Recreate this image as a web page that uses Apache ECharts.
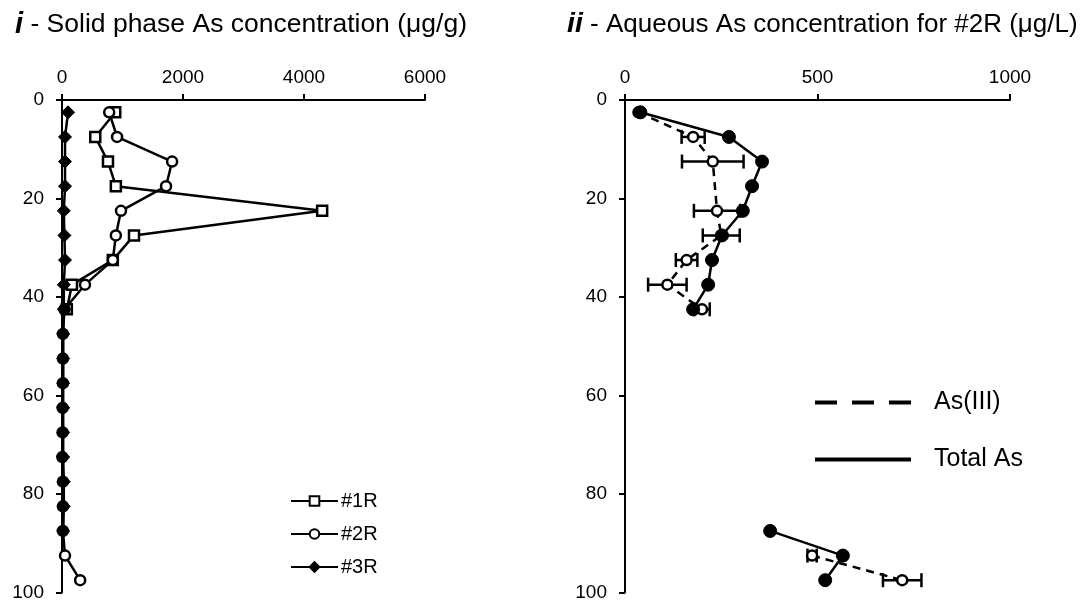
<!DOCTYPE html>
<html><head><meta charset="utf-8">
<script src="https://cdn.jsdelivr.net/npm/echarts@6/dist/echarts.min.js"></script>
<style>html,body{margin:0;padding:0;background:#fff}#c{width:1091px;height:602px}</style>
</head><body><div id="c"></div>
<script>
// ---- data ----
const depthsLeft = [2.5,7.5,12.5,17.5,22.5,27.5,32.5,37.5,42.5,47.5,52.5,57.5,62.5,67.5,72.5,77.5,82.5,87.5,92.5,97.5];
const r1 = [880,550,760,890,4300,1190,840,165,80];
const r2 = [780,910,1820,1720,975,890,840,380,40,15,15,15,10,10,5,15,15,15,50,300];
const r3 = [100,50,50,50,30,40,50,30,30,20,20,20,20,20,20,30,30,20];
const leftTicks = [0,2000,4000,6000];

const totalDepths = [2.5,7.5,12.5,17.5,22.5,27.5,32.5,37.5,42.5,null,87.5,92.5,97.5];
const totalAs = [40,270,356,330,306,252,226,216,177,null,377,566,520];
const as3Depths = [2.5,7.5,12.5,22.5,27.5,32.5,37.5,42.5,null,92.5,97.5];
const as3 = [35,177,228,239,250,160,110,200,null,486,720];
const as3Err = [0,30,80,60,48,28,50,20,null,12,50];
const rightTicks = [0,500,1000];

const FONT = 'Liberation Sans';
const pairs = (xs, ds) => xs.map((v,i) => (v === null ? ['-', '-'] : [v, ds[i]]));
const errData = as3.map((v,i) => v === null || as3Err[i] === 0 ? null : [v - as3Err[i], v + as3Err[i], as3Depths[i]]).filter(d => d);

const axisLine = {show:true, lineStyle:{color:'#000', width:2}};
const axisTick = {show:true, length:6, lineStyle:{color:'#000', width:2}};
const lbl = {color:'#000', fontFamily:FONT, fontSize:19, formatter:v => String(v)};

const chart = echarts.init(document.getElementById('c'), null, {renderer:'canvas'});
chart.setOption({
  animation:false,
  backgroundColor:'#fff',
  title:[
    {text:'{i|i} - Solid phase As concentration (μg/g)', left:10, top:5,
     textStyle:{fontFamily:FONT, fontSize:26.5, fontWeight:'normal', color:'#000',
       rich:{i:{fontFamily:FONT, fontSize:29, fontWeight:'bold', fontStyle:'italic', color:'#000'}}}},
    {text:'{i|ii} - Aqueous As concentration for #2R (μg/L)', left:562, top:5,
     textStyle:{fontFamily:FONT, fontSize:26, fontWeight:'normal', color:'#000',
       rich:{i:{fontFamily:FONT, fontSize:28.5, fontWeight:'bold', fontStyle:'italic', color:'#000'}}}}
  ],
  grid:[
    {left:62, top:100, width:363, height:493},
    {left:625, top:100, width:385, height:493}
  ],
  xAxis:[
    {gridIndex:0, type:'value', position:'top', min:leftTicks[0], max:leftTicks[leftTicks.length-1], interval:2000,
     axisLine, axisTick, splitLine:{show:false}, axisLabel:{...lbl, margin:13}},
    {gridIndex:1, type:'value', position:'top', min:rightTicks[0], max:rightTicks[rightTicks.length-1], interval:500,
     axisLine, axisTick, splitLine:{show:false}, axisLabel:{...lbl, margin:13}}
  ],
  yAxis:[
    {gridIndex:0, type:'value', inverse:true, min:0, max:100, interval:20,
     axisLine, axisTick, splitLine:{show:false}, axisLabel:{...lbl, margin:18}},
    {gridIndex:1, type:'value', inverse:true, min:0, max:100, interval:20,
     axisLine, axisTick, splitLine:{show:false}, axisLabel:{...lbl, margin:18}}
  ],
  legend:[
    {left:285, top:486, orient:'vertical', itemGap:13, itemWidth:47, itemHeight:12,
     data:['#1R','#2R','#3R'], textStyle:{fontFamily:FONT, fontSize:20, color:'#000', padding:[0,0,0,-2]}},
    {left:808, top:385, orient:'vertical', itemGap:32, itemWidth:96, itemHeight:24,
     data:[{name:'As(III)', lineStyle:{width:4, type:[22,15]}}, {name:'Total As', lineStyle:{width:4}}],
     itemStyle:{opacity:0},
     textStyle:{fontFamily:FONT, fontSize:25, color:'#000', padding:[0,0,0,18]}}
  ],
  series:[
    {name:'#1R', type:'line', xAxisIndex:0, yAxisIndex:0, data:pairs(r1, depthsLeft),
     symbol:'rect', symbolSize:10, lineStyle:{color:'#000', width:2.5},
     itemStyle:{color:'#fff', borderColor:'#000', borderWidth:2.5}, z:3},
    {name:'#2R', type:'line', xAxisIndex:0, yAxisIndex:0, data:pairs(r2, depthsLeft),
     symbol:'circle', symbolSize:10, lineStyle:{color:'#000', width:2.5},
     itemStyle:{color:'#fff', borderColor:'#000', borderWidth:2.5}, z:4},
    {name:'#3R', type:'line', xAxisIndex:0, yAxisIndex:0, data:pairs(r3, depthsLeft),
     symbol:'diamond', symbolSize:13, lineStyle:{color:'#000', width:2.5},
     itemStyle:{color:'#000', borderColor:'#000', borderWidth:1}, z:5},
    {name:'errbars', type:'custom', xAxisIndex:1, yAxisIndex:1, data:errData, z:2,
     renderItem:function(params, api){
       const a = api.coord([api.value(0), api.value(2)]);
       const b = api.coord([api.value(1), api.value(2)]);
       const h = 7;
       const st = {stroke:'#000', lineWidth:2.5};
       return {type:'group', children:[
         {type:'line', shape:{x1:a[0], y1:a[1], x2:b[0], y2:b[1]}, style:st},
         {type:'line', shape:{x1:a[0], y1:a[1]-h, x2:a[0], y2:a[1]+h}, style:st},
         {type:'line', shape:{x1:b[0], y1:b[1]-h, x2:b[0], y2:b[1]+h}, style:st}
       ]};
     }},
    {name:'As(III)', type:'line', xAxisIndex:1, yAxisIndex:1, data:pairs(as3, as3Depths),
     symbol:'circle', symbolSize:10, connectNulls:false,
     lineStyle:{color:'#000', width:2.5, type:[8,6]},
     itemStyle:{color:'#fff', borderColor:'#000', borderWidth:2.5}, z:3},
    {name:'Total As', type:'line', xAxisIndex:1, yAxisIndex:1, data:pairs(totalAs, totalDepths),
     symbol:'circle', symbolSize:13, connectNulls:false,
     lineStyle:{color:'#000', width:2.5},
     itemStyle:{color:'#000', borderColor:'#000', borderWidth:1}, z:4}
  ]
});
</script></body></html>
